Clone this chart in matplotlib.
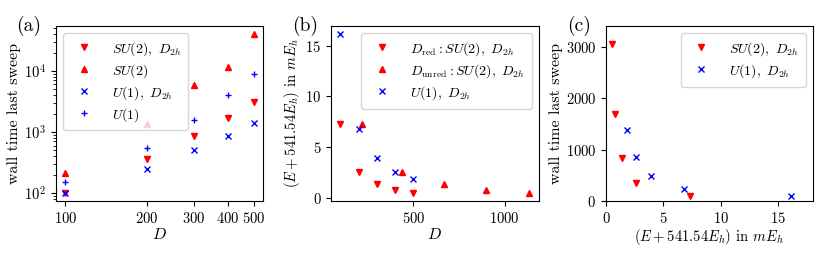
import numpy as np
import matplotlib
matplotlib.use("Agg")
import matplotlib.pyplot as plt
from matplotlib.ticker import FixedLocator, NullLocator, ScalarFormatter

plt.rcParams['font.family'] = 'serif'
plt.rcParams['font.serif'] = ['cmr10', 'DejaVu Serif']
plt.rcParams['mathtext.fontset'] = 'cm'
plt.rcParams['axes.formatter.use_mathtext'] = True
plt.rcParams['font.size'] = 11.5
plt.rcParams['xtick.labelsize'] = 10.5
plt.rcParams['ytick.labelsize'] = 10.5

# ---- data ----
D = [100, 200, 300, 400, 500]
t_su2_d2h = [100, 358, 845, 1695, 3059]
t_su2 = [215, 1370, 5900, 11700, 40300]
t_u1_d2h = [100, 245, 500, 855, 1390]
t_u1 = [150, 550, 1580, 4000, 8900]

E_su2 = [7.30, 2.62, 1.36, 0.78, 0.50]
D_unred = [220, 440, 670, 900, 1135]
E_u1_d2h = [16.15, 6.78, 3.96, 2.59, 1.84]

t_c_su2 = [105, 358, 845, 1695, 3059]
t_c_u1 = [97, 241, 494, 851, 1383]

lab_su2_d2h = r'$SU(2),\ D_{2h}$'
lab_su2 = r'$SU(2)$'
lab_u1_d2h = r'$U(1),\ D_{2h}$'
lab_u1 = r'$U(1)$'
lab_red = r'$D_{\rm red}: SU(2),\ D_{2h}$'
lab_unred = r'$D_{\rm unred}: SU(2),\ D_{2h}$'
elab = r'$(E + 541.54 E_h)$ in $mE_h$'

fig = plt.figure(figsize=(8.3, 2.56), dpi=100)
bot, h = 0.2148, 0.6836
axa = fig.add_axes([0.0675, bot, 0.2497, h])
axb = fig.add_axes([0.3988, bot, 0.2502, h])
axc = fig.add_axes([0.7301, bot, 0.2490, h])

ms_t = 5
ms_x = 4.5
leg_kw = dict(handletextpad=1.0, labelspacing=0.3, borderpad=0.5, fontsize=10)
# (a)
axa.plot(D, t_su2_d2h, 'rv', ls='none', ms=ms_t, label=lab_su2_d2h)
axa.plot(D, t_su2, 'r^', ls='none', ms=ms_t, label=lab_su2)
axa.plot(D, t_u1_d2h, 'bx', ls='none', ms=ms_x, label=lab_u1_d2h)
axa.plot(D, t_u1, 'b+', ls='none', ms=ms_x, label=lab_u1)
axa.set_xscale('log')
axa.set_yscale('log')
axa.xaxis.set_major_locator(FixedLocator(D))
axa.xaxis.set_major_formatter(ScalarFormatter())
axa.xaxis.set_minor_locator(NullLocator())
axa.set_xlabel(r'$D$', labelpad=1)
axa.set_ylabel('wall time last sweep', labelpad=2)
axa.legend(loc='upper left', **leg_kw)

# (b)
axb.plot(D, E_su2, 'rv', ls='none', ms=ms_t, label=lab_red)
axb.plot(D_unred, E_su2, 'r^', ls='none', ms=ms_t, label=lab_unred)
axb.plot(D, E_u1_d2h, 'bx', ls='none', ms=ms_x, label=lab_u1_d2h)
axb.set_xticks([500, 1000])
axb.set_yticks([0, 5, 10, 15])
axb.set_xlabel(r'$D$', labelpad=1)
axb.set_ylabel(elab, labelpad=2, fontsize=10.5)
axb.legend(loc='upper right', **leg_kw)

# (c)
axc.plot(E_su2, t_c_su2, 'rv', ls='none', ms=ms_t, label=lab_su2_d2h)
axc.plot(E_u1_d2h, t_c_u1, 'bx', ls='none', ms=ms_x, label=lab_u1_d2h)
axc.set_xlim(0, 18)
axc.set_ylim(0, 3410)
axc.set_xticks([0, 5, 10, 15])
axc.set_yticks([0, 1000, 2000, 3000])
axc.set_xlabel(elab, labelpad=1, fontsize=10.5)
axc.set_ylabel('wall time last sweep', labelpad=2)
axc.legend(loc='upper right', **leg_kw)

fig.text(0.020, 0.90, '(a)', fontsize=14, va='center')
fig.text(0.352, 0.90, '(b)', fontsize=14, va='center')
fig.text(0.683, 0.90, '(c)', fontsize=14, va='center')

fig.savefig('out.png', dpi=100)
